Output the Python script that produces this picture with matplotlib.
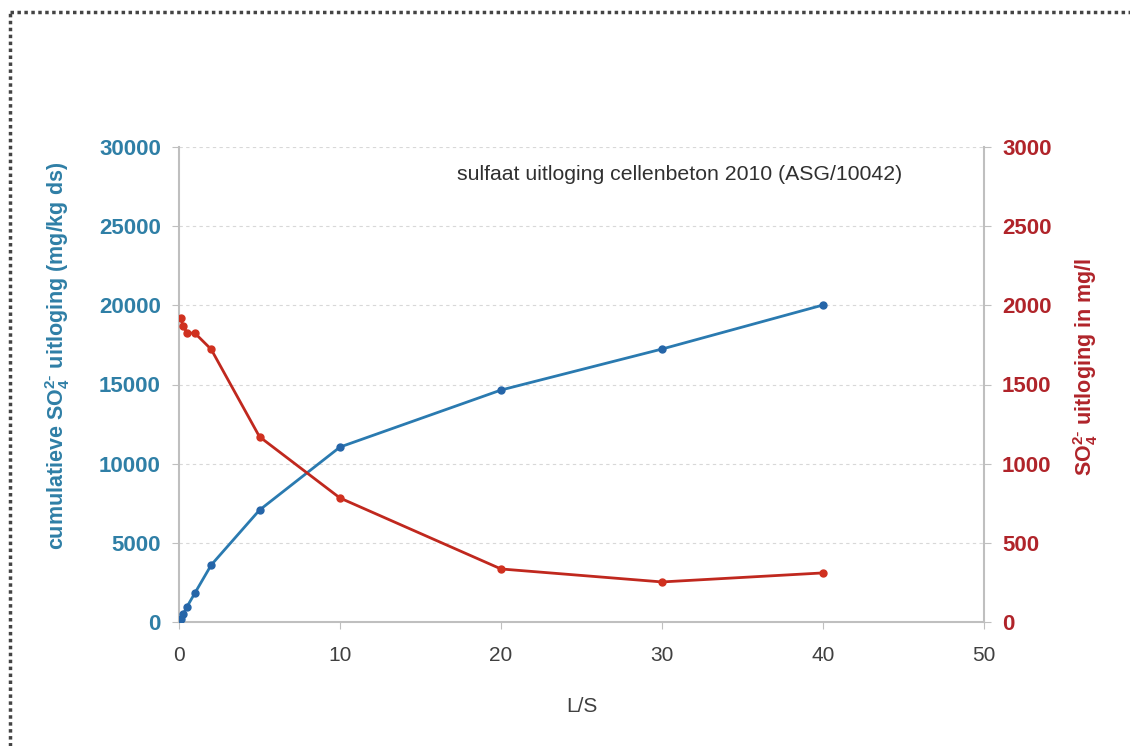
import matplotlib.pyplot as plt
from matplotlib.lines import Line2D

plt.rcParams['font.family'] = ['Liberation Sans', 'DejaVu Sans']
plt.rcParams['mathtext.default'] = 'regular'

ls = [0.1, 0.25, 0.5, 1, 2, 5, 10, 20, 30, 40]
cumulatief = [190, 480, 970, 1850, 3600, 7070, 11050, 14650, 17240, 20020]
concentratie = [1918, 1870, 1827, 1823, 1722, 1170, 783, 335, 253, 310]

blauw = '#2a7ab0'
rood = '#c0281e'
tekst_blauw = '#2f7fa6'
tekst_rood = '#b0242a'

fig = plt.figure(figsize=(11.3, 7.46), dpi=100)
ax = fig.add_axes([179/1130, 1 - 622/746, (984-179)/1130, (622-147)/746])
ax2 = ax.twinx()

ax.plot(ls, cumulatief, color=blauw, lw=2, marker='o', ms=5, mfc='#2565a8', mec='#2565a8', zorder=3)
ax2.plot(ls, concentratie, color=rood, lw=2, marker='o', ms=5, mfc='#d0301f', mec='#d0301f', zorder=3)

ax.set_xlim(0, 50)
ax.set_ylim(0, 30000)
ax2.set_ylim(0, 3000)
ax.set_xticks(range(0, 51, 10))
ax.set_yticks(range(0, 30001, 5000))
ax2.set_yticks(range(0, 3001, 500))

ax.grid(axis='y', color='#d8d8d8', linestyle=(0, (3, 3)), lw=0.8)
for a in (ax, ax2):
    for s in a.spines.values():
        s.set_visible(False)
ax.spines['left'].set_visible(True)
ax.spines['bottom'].set_visible(True)
ax2.spines['right'].set_visible(True)
for s in ('left', 'bottom'):
    ax.spines[s].set_color('#bfbfbf')
    ax.spines[s].set_linewidth(1.5)
ax2.spines['right'].set_color('#bfbfbf')
ax2.spines['right'].set_linewidth(1.5)

ax.tick_params(axis='y', colors='#bfbfbf', labelcolor=tekst_blauw, labelsize=16, length=5, pad=8)
ax.tick_params(axis='x', colors='#bfbfbf', labelcolor='#404040', labelsize=15, length=5, pad=12)
ax2.tick_params(axis='y', colors='#bfbfbf', labelcolor=tekst_rood, labelsize=16, length=5, pad=8)
for lab in ax.get_yticklabels() + ax2.get_yticklabels():
    lab.set_fontweight('bold')

ax.set_ylabel('cumulatieve SO$_4^{2\\text{-}}$ uitloging (mg/kg ds)',
              color=tekst_blauw, fontsize=15.5, fontweight='bold')
ax.yaxis.set_label_coords(-0.133, 0.56)
ax2.set_ylabel('SO$_4^{2\\text{-}}$ uitloging in mg/l', color=tekst_rood, fontsize=15.5,
               fontweight='bold')
ax2.yaxis.set_label_coords(1.108, 0.537)
ax.set_xlabel('L/S', color='#404040', fontsize=15, labelpad=23)

ax.text(0.345, 0.943, 'sulfaat uitloging cellenbeton 2010 (ASG/10042)', transform=ax.transAxes,
        fontsize=15.3, color='#303030', va='center')

# gestippelde rand links en boven
fig.add_artist(Line2D([10/1130, 10/1130], [0, 1 - 12/746], transform=fig.transFigure,
                      color='#444444', lw=2.5, ls=(0, (1, 1))))
fig.add_artist(Line2D([10/1130, 1], [1 - 12/746, 1 - 12/746], transform=fig.transFigure,
                      color='#444444', lw=2.5, ls=(0, (1, 1))))

fig.savefig('out.png', dpi=100)
